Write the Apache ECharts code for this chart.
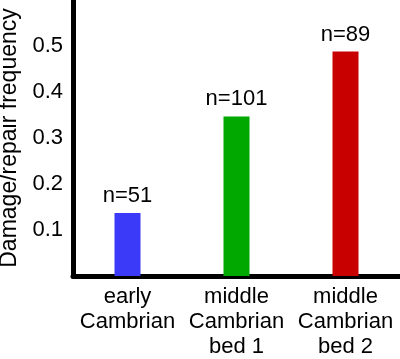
<!DOCTYPE html>
<html>
<head>
<meta charset="utf-8">
<script src="https://cdn.jsdelivr.net/npm/echarts@6/dist/echarts.min.js"></script>
<style>
html,body{margin:0;padding:0;background:#fff;}
#chart{width:400px;height:359px;}
</style>
</head>
<body>
<div id="chart"></div>
<script>
var categories = ['early\nCambrian', 'middle\nCambrian\nbed 1', 'middle\nCambrian\nbed 2'];
var values = [0.137, 0.347, 0.488];
var sampleLabels = ['n=51', 'n=101', 'n=89'];
var barColors = ['#3a3af8', '#00a800', '#c80000'];
var yTitle = 'Damage/repair frequency';

var FONT = '"Liberation Sans", Arial, sans-serif';
var chart = echarts.init(document.getElementById('chart'));
chart.setOption({
  animation: false,
  backgroundColor: '#fff',
  grid: { left: 73, right: 0, top: 0, bottom: 83, containLabel: false, outerBoundsMode: 'none' },
  xAxis: {
    type: 'category',
    data: categories,
    axisLine: { show: true, lineStyle: { color: '#000', width: 5 } },
    axisTick: { show: false },
    axisLabel: {
      color: '#000', fontFamily: FONT, fontSize: 22, lineHeight: 25,
      margin: 8, interval: 0
    }
  },
  yAxis: {
    type: 'value',
    min: 0, max: 0.6, interval: 0.1,
    name: yTitle,
    nameLocation: 'middle',
    nameGap: 46,
    nameRotate: 90,
    nameTextStyle: { color: '#000', fontFamily: FONT, fontSize: 23 },
    axisLine: { show: true, lineStyle: { color: '#000', width: 5 } },
    axisTick: { show: false },
    splitLine: { show: false },
    axisLabel: {
      color: '#000', fontFamily: FONT, fontSize: 22, margin: 10,
      showMinLabel: false, showMaxLabel: false,
      formatter: function (v) { return (v === 0 || v >= 0.6) ? '' : v.toFixed(1); }
    }
  },
  series: [{
    type: 'bar',
    barWidth: 26,
    data: values.map(function (v, i) {
      return { value: v, itemStyle: { color: barColors[i] } };
    }),
    label: {
      show: true, position: 'top', distance: 6,
      color: '#000', fontFamily: FONT, fontSize: 22,
      formatter: function (p) { return sampleLabels[p.dataIndex]; }
    }
  }]
});
</script>
</body>
</html>
